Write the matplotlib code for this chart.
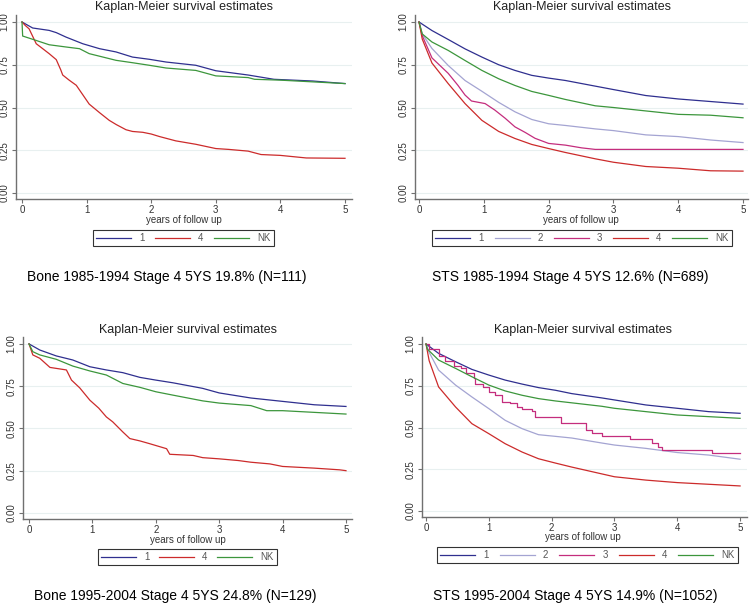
import matplotlib
matplotlib.use('Agg')
import matplotlib.pyplot as plt

plt.rcParams['font.family'] = ['Liberation Sans', 'DejaVu Sans']

W, H = 750, 604

# --- Bone 1985-1994 ---
bone85_1_t = [0, 0.165, 0.42, 0.53, 0.68, 0.94, 1.2, 1.455, 1.71, 1.97, 2.23, 2.69, 3.0, 3.5, 3.9, 4.5, 5.0]
bone85_1_s = [1.0, 0.965, 0.951, 0.938, 0.912, 0.873, 0.844, 0.825, 0.795, 0.782, 0.766, 0.747, 0.715, 0.69,
              0.665, 0.655, 0.64]
bone85_4_t = [0, 0.05, 0.11, 0.22, 0.3, 0.42, 0.53, 0.6, 0.63, 0.73, 0.84, 0.94, 1.04, 1.2, 1.35, 1.46, 1.61,
              1.71, 1.87, 2.0, 2.13, 2.38, 2.69, 3.0, 3.2, 3.5, 3.6, 3.7, 4.0, 4.4, 5.0]
bone85_4_s = [1.0, 0.98, 0.96, 0.873, 0.85, 0.815, 0.78, 0.72, 0.69, 0.66, 0.63, 0.575, 0.52, 0.47, 0.425,
              0.40, 0.37, 0.36, 0.355, 0.345, 0.33, 0.305, 0.285, 0.26, 0.255, 0.245, 0.235, 0.225, 0.22,
              0.205, 0.203]
bone85_nk_t = [0, 0.01, 0.165, 0.42, 0.68, 0.89, 1.04, 1.2, 1.455, 1.71, 1.97, 2.23, 2.69, 3.0, 3.5, 3.6,
               4.0, 4.5, 5.0]
bone85_nk_s = [1.0, 0.918, 0.899, 0.867, 0.854, 0.844, 0.815, 0.80, 0.776, 0.762, 0.747, 0.731, 0.717, 0.685,
               0.675, 0.665, 0.66, 0.65, 0.64]

# --- STS 1985-1994 ---
sts85_1_t = [0, 0.2, 0.45, 0.71, 0.97, 1.23, 1.48, 1.74, 2.0, 2.26, 2.72, 3.0, 3.5, 4.0, 4.5, 5.0]
sts85_1_s = [1.0, 0.95, 0.898, 0.843, 0.795, 0.75, 0.717, 0.688, 0.672, 0.658, 0.625, 0.605, 0.57, 0.55,
             0.535, 0.52]
sts85_2_t = [0, 0.05, 0.2, 0.45, 0.71, 0.97, 1.23, 1.48, 1.74, 2.0, 2.26, 2.72, 3.0, 3.5, 4.0, 4.5, 5.0]
sts85_2_s = [1.0, 0.93, 0.845, 0.746, 0.658, 0.595, 0.53, 0.475, 0.43, 0.405, 0.395, 0.375, 0.365, 0.34,
             0.33, 0.31, 0.295]
sts85_3_t = [0, 0.05, 0.2, 0.45, 0.6, 0.71, 0.81, 1.02, 1.17, 1.33, 1.48, 1.64, 1.79, 2.0, 2.26, 2.51, 2.72, 5.0]
sts85_3_s = [1.0, 0.92, 0.79, 0.70, 0.63, 0.573, 0.538, 0.523, 0.485, 0.437, 0.387, 0.354, 0.32, 0.29, 0.28,
             0.264, 0.255, 0.255]
sts85_4_t = [0, 0.05, 0.2, 0.45, 0.71, 0.97, 1.23, 1.48, 1.74, 2.0, 2.26, 2.72, 3.0, 3.5, 4.0, 4.5, 5.0]
sts85_4_s = [1.0, 0.90, 0.76, 0.64, 0.523, 0.425, 0.36, 0.319, 0.284, 0.26, 0.237, 0.20, 0.18, 0.155, 0.145,
             0.13, 0.128]
sts85_nk_t = [0, 0.05, 0.2, 0.45, 0.71, 0.97, 1.23, 1.48, 1.74, 2.0, 2.26, 2.72, 3.0, 3.5, 4.0, 4.5, 5.0]
sts85_nk_s = [1.0, 0.93, 0.883, 0.834, 0.775, 0.717, 0.668, 0.629, 0.594, 0.571, 0.547, 0.51, 0.50, 0.48,
              0.46, 0.455, 0.44]

# --- Bone 1995-2004 ---
bone95_1_t = [0, 0.17, 0.43, 0.69, 0.96, 1.22, 1.48, 1.75, 2.0, 2.27, 2.74, 3.0, 3.5, 4.0, 4.5, 5.0]
bone95_1_s = [1.0, 0.964, 0.929, 0.905, 0.865, 0.846, 0.83, 0.802, 0.786, 0.77, 0.737, 0.71, 0.68, 0.66,
              0.64, 0.63]
bone95_4_t = [0, 0.06, 0.17, 0.33, 0.59, 0.67, 0.8, 0.96, 1.1, 1.22, 1.32, 1.48, 1.59, 1.75, 1.9, 2.17, 2.22,
              2.59, 2.74, 3.0, 3.3, 3.5, 3.8, 4.0, 4.5, 4.9, 5.0]
bone95_4_s = [1.0, 0.935, 0.915, 0.861, 0.846, 0.786, 0.74, 0.667, 0.62, 0.568, 0.539, 0.479, 0.44, 0.426,
              0.41, 0.38, 0.347, 0.34, 0.327, 0.32, 0.31, 0.30, 0.29, 0.275, 0.265, 0.255, 0.25]
bone95_nk_t = [0, 0.06, 0.17, 0.43, 0.69, 0.96, 1.22, 1.48, 1.75, 2.0, 2.27, 2.74, 3.0, 3.5, 3.75, 4.0, 4.5, 5.0]
bone95_nk_s = [1.0, 0.954, 0.935, 0.909, 0.869, 0.84, 0.816, 0.766, 0.743, 0.717, 0.697, 0.663, 0.65, 0.635,
               0.605, 0.605, 0.595, 0.585]

# --- STS 1995-2004 ---
sts95_1_t = [0, 0.2, 0.47, 0.73, 1.0, 1.26, 1.53, 1.79, 2.06, 2.32, 2.8, 3.0, 3.5, 4.0, 4.5, 5.0]
sts95_1_s = [1.0, 0.944, 0.894, 0.848, 0.814, 0.784, 0.76, 0.739, 0.723, 0.703, 0.677, 0.665, 0.635, 0.615,
             0.595, 0.585]
sts95_2_t = [0, 0.05, 0.2, 0.47, 0.73, 1.0, 1.26, 1.53, 1.79, 2.06, 2.32, 2.8, 3.0, 3.5, 4.0, 4.5, 5.0]
sts95_2_s = [1.0, 0.95, 0.844, 0.754, 0.683, 0.613, 0.543, 0.493, 0.457, 0.447, 0.437, 0.407, 0.395, 0.375,
             0.35, 0.335, 0.31]
sts95_3_t = [0, 0.05, 0.2, 0.31, 0.45, 0.55, 0.63, 0.76, 0.78, 0.9, 1.0, 1.1, 1.21, 1.34, 1.45, 1.53, 1.69,
             1.74, 2.15, 2.55, 2.65, 2.8, 3.25, 3.6, 3.7, 3.75, 4.55, 5.0]
sts95_3_s = [1.0, 0.97, 0.93, 0.90, 0.87, 0.854, 0.824, 0.794, 0.76, 0.743, 0.713, 0.693, 0.653, 0.645, 0.625,
             0.613, 0.60, 0.563, 0.527, 0.487, 0.47, 0.45, 0.43, 0.41, 0.385, 0.365, 0.345, 0.345]
sts95_4_t = [0, 0.05, 0.2, 0.47, 0.73, 1.0, 1.26, 1.53, 1.79, 2.06, 2.32, 2.8, 3.0, 3.5, 4.0, 4.5, 5.0]
sts95_4_s = [1.0, 0.90, 0.743, 0.623, 0.523, 0.463, 0.403, 0.353, 0.313, 0.287, 0.263, 0.222, 0.205, 0.185,
             0.17, 0.16, 0.15]
sts95_nk_t = [0, 0.02, 0.2, 0.47, 0.73, 1.0, 1.26, 1.53, 1.79, 2.06, 2.8, 3.0, 3.5, 4.0, 4.5, 5.0]
sts95_nk_s = [1.0, 0.97, 0.904, 0.854, 0.804, 0.754, 0.719, 0.693, 0.673, 0.659, 0.627, 0.615, 0.595, 0.575,
              0.565, 0.555]

colors = {'1': '#2f2f8f', '2': '#a4a4d2', '3': '#c42d7d', '4': '#cc2b2b', 'NK': '#3c963c'}

# pixel boxes: axes (left, right, top, bottom), xlim, ylim, title/xlabel/caption centres, legend box
panels = [
    dict(ax=(16, 352, 15, 199), xlim=(-0.093, 5.108), ylim=(-0.035, 1.041),
         title=(184, 7), xlab=(184, 220), caption=(167, 277), leg=(93, 274, 229, 247),
         text='Bone 1985-1994 Stage 4 5YS 19.8% (N=111)',
         curves=[('1', bone85_1_t, bone85_1_s, False), ('4', bone85_4_t, bone85_4_s, False),
                 ('NK', bone85_nk_t, bone85_nk_s, False)]),
    dict(ax=(415, 748, 15, 199), xlim=(-0.062, 5.077), ylim=(-0.035, 1.041),
         title=(582, 7), xlab=(581, 220), caption=(570, 277), leg=(432, 732, 229, 247),
         text='STS 1985-1994 Stage 4 5YS 12.6% (N=689)',
         curves=[('1', sts85_1_t, sts85_1_s, False), ('2', sts85_2_t, sts85_2_s, False),
                 ('3', sts85_3_t, sts85_3_s, False), ('4', sts85_4_t, sts85_4_s, False),
                 ('NK', sts85_nk_t, sts85_nk_s, False)]),
    dict(ax=(23, 352, 337, 519), xlim=(-0.095, 5.095), ylim=(-0.036, 1.041),
         title=(188, 330), xlab=(188, 540), caption=(175, 596), leg=(98, 277, 548, 566),
         text='Bone 1995-2004 Stage 4 5YS 24.8% (N=129)',
         curves=[('1', bone95_1_t, bone95_1_s, False), ('4', bone95_4_t, bone95_4_s, False),
                 ('NK', bone95_nk_t, bone95_nk_s, False)]),
    dict(ax=(422, 747, 337, 517), xlim=(-0.064, 5.11), ylim=(-0.036, 1.042),
         title=(583, 330), xlab=(583, 537), caption=(575, 596), leg=(437, 738, 547, 563),
         text='STS 1995-2004 Stage 4 5YS 14.9% (N=1052)',
         curves=[('1', sts95_1_t, sts95_1_s, False), ('2', sts95_2_t, sts95_2_s, False),
                 ('3', sts95_3_t, sts95_3_s, True), ('4', sts95_4_t, sts95_4_s, False),
                 ('NK', sts95_nk_t, sts95_nk_s, False)]),
]


def fx(x):
    return x / W


def fy(y):
    return 1 - y / H


fig = plt.figure(figsize=(7.5, 6.04), dpi=100)

for p in panels:
    l, r, t, b = p['ax']
    ax = fig.add_axes([fx(l), fy(b), (r - l) / W, (b - t) / H])
    ax.set_xlim(*p['xlim'])
    ax.set_ylim(*p['ylim'])

    handles = []
    for lab, ts, ss, steps in p['curves']:
        line, = ax.plot(ts, ss, color=colors[lab], lw=0.9,
                        drawstyle='steps-post' if steps else 'default', label=lab)
        handles.append(line)

    ax.set_yticks([0, 0.25, 0.5, 0.75, 1.0])
    ax.set_yticklabels(['0.00', '0.25', '0.50', '0.75', '1.00'], rotation=90, va='center')
    ax.set_xticks([0, 1, 2, 3, 4, 5])
    ax.grid(axis='y', color='#e8f0f0', lw=0.8)
    ax.set_axisbelow(True)
    for side in ['top', 'right']:
        ax.spines[side].set_visible(False)
    for side in ['left', 'bottom']:
        ax.spines[side].set_color('#707070')
        ax.spines[side].set_linewidth(1.0)
    ax.tick_params(direction='out', length=3, width=0.8, color='#707070',
                   labelsize=7, labelcolor='#333333', pad=1.5)

    fig.text(fx(p['title'][0]), fy(p['title'][1]), 'Kaplan-Meier survival estimates',
             ha='center', va='center', fontsize=9, color='#222222')
    fig.text(fx(p['xlab'][0]), fy(p['xlab'][1]), 'years of follow up',
             ha='center', va='center', fontsize=7, color='#333333')
    fig.text(fx(p['caption'][0]), fy(p['caption'][1]), p['text'],
             ha='center', va='center', fontsize=10, color='black')

    l2, r2, t2, b2 = p['leg']
    leg = fig.legend(handles=handles, loc='center', mode='expand', ncol=len(handles),
                     bbox_to_anchor=(fx(l2), fy(b2), (r2 - l2) / W, (b2 - t2) / H),
                     fontsize=7, handlelength=3.6, frameon=True, fancybox=False,
                     edgecolor='black', borderpad=0.35, handletextpad=0.8, borderaxespad=0)
    leg.get_frame().set_linewidth(0.8)
    for txt in leg.get_texts():
        txt.set_color('#555555')

fig.savefig('out.png', dpi=100)
